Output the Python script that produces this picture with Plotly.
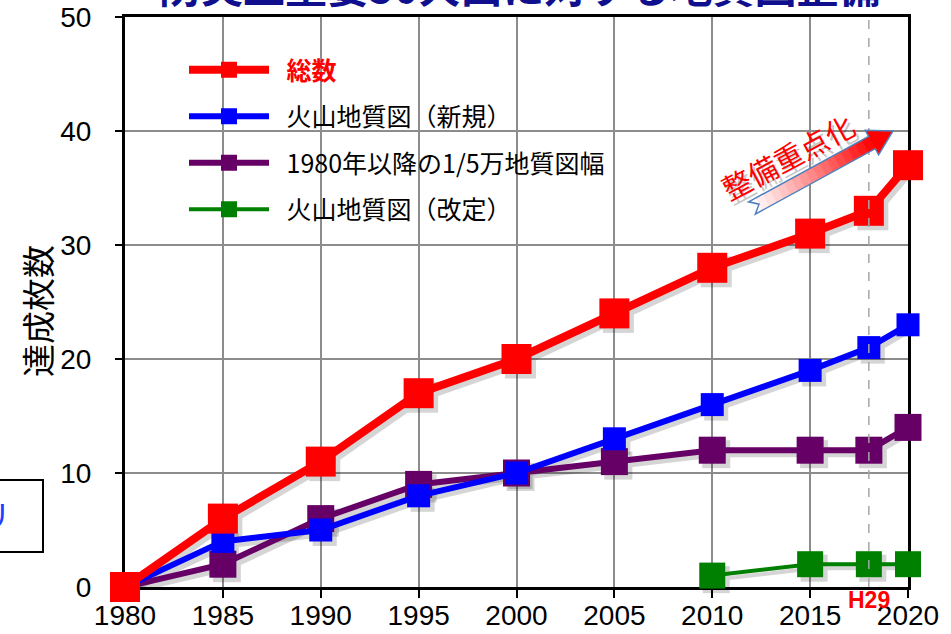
import math
import plotly.graph_objects as go

# ---- data -------------------------------------------------------------
years = [1980, 1985, 1990, 1995, 2000, 2005, 2010, 2015, 2018, 2020]
total = [0, 6, 11, 17, 20, 24, 28, 31, 33, 37]
volcano_new = [0, 4, 5, 8, 10, 13, 16, 19, 21, 23]
quad_50k = [0, 2, 6, 9, 10, 11, 12, 12, 12, 14]
revised_years = [2010, 2015, 2018, 2020]
volcano_revised = [1, 2, 2, 2]

x_ticks = [1980, 1985, 1990, 1995, 2000, 2005, 2010, 2015, 2020]
y_ticks = [0, 10, 20, 30, 40, 50]

PAD = "\u2002"  # small gap between legend symbol and label
series = [
    # name, x, y, colour, marker size, line width, legend rank
    (PAD + "火山地質図（改定）", revised_years, volcano_revised, "#008000", 26, 4, 4),
    (PAD + "1980年以降の1/5万地質図幅", years, quad_50k, "#660066", 27, 6, 3),
    (PAD + "火山地質図（新規）", years, volcano_new, "#0000ff", 23, 6, 2),
    (PAD + "<b><span style='color:#ff0000'>総数</span></b>", years, total,
     "#ff0000", 30, 8, 1),
]

# ---- geometry ---------------------------------------------------------
W, H = 951, 634
ML, MR, MT, MB = 125, 43, 17, 47
PW, PH = W - ML - MR, H - MT - MB
X_RANGE = [1980, 2020]
Y_RANGE = [0, 50]
SHADOW_DX, SHADOW_DY = 4, 4  # drop-shadow offset in pixels


def paper(px, py):
    return (px - ML) / PW, (H - MB - py) / PH


fig = go.Figure()

# drop shadows drawn on a base axis pair shifted by a few pixels
sx = SHADOW_DX * (X_RANGE[1] - X_RANGE[0]) / PW
sy = SHADOW_DY * (Y_RANGE[1] - Y_RANGE[0]) / PH
for name, xs, ys, col, msize, lw, rank in series:
    fig.add_trace(go.Scatter(
        x=xs, y=ys, mode="lines+markers", xaxis="x", yaxis="y",
        line=dict(color="#000000", width=lw),
        marker=dict(symbol="square", size=msize + 1, color="#000000"),
        opacity=0.16, showlegend=False, hoverinfo="skip", cliponaxis=False,
    ))

for i, (name, xs, ys, col, msize, lw, rank) in enumerate(series):
    fig.add_trace(go.Scatter(
        x=xs, y=ys, name=name, mode="lines+markers", xaxis="x2", yaxis="y2",
        line=dict(color=col, width=lw),
        marker=dict(symbol="square", size=msize, color=col,
                    line=dict(width=0)),
        legendgroup=f"g{i}", legendrank=rank, cliponaxis=False,
    ))

tick_font = dict(family="Liberation Sans, Arial", size=28, color="#000000")

fig.update_layout(
    width=W, height=H,
    margin=dict(l=ML, r=MR, t=MT, b=MB, autoexpand=False),
    paper_bgcolor="#ffffff", plot_bgcolor="#ffffff",
    xaxis=dict(range=[X_RANGE[0] - sx, X_RANGE[1] - sx], visible=False,
               fixedrange=True, automargin=False),
    yaxis=dict(range=[Y_RANGE[0] + sy, Y_RANGE[1] + sy], visible=False,
               fixedrange=True, automargin=False),
    xaxis2=dict(
        overlaying="x", anchor="y2", range=X_RANGE, tickvals=x_ticks,
        showgrid=True, gridcolor="#8c8c8c", gridwidth=1.5,
        showline=True, linecolor="#000000", linewidth=3, mirror=True,
        ticks="outside", ticklen=8, tickwidth=2, tickcolor="#000000",
        tickfont=tick_font, ticklabelstandoff=-7, zeroline=False,
        layer="below traces", automargin=False,
    ),
    yaxis2=dict(
        overlaying="y", anchor="x2", range=Y_RANGE, tickvals=y_ticks,
        showgrid=True, gridcolor="#8c8c8c", gridwidth=1.5,
        showline=True, linecolor="#000000", linewidth=3, mirror=True,
        ticks="outside", ticklen=7, tickwidth=2, tickcolor="#000000",
        tickfont=tick_font, ticklabelstandoff=18, zeroline=False,
        layer="below traces", automargin=False,
    ),
    legend=dict(
        x=paper(184, 0)[0], y=paper(0, 47)[1], xanchor="left", yanchor="top",
        bgcolor="rgba(255,255,255,0)", borderwidth=0,
        font=dict(family="Noto Sans CJK JP", size=25, color="#000000"),
        traceorder="grouped", tracegroupgap=11, itemwidth=80,
    ),
    showlegend=True,
)

# y-axis title
tx, ty = paper(37, 311)
fig.add_annotation(xref="paper", yref="paper", x=tx, y=ty, text="達成枚数",
                   textangle=-90, showarrow=False, xanchor="center",
                   yanchor="middle",
                   font=dict(family="Noto Sans CJK JP", size=33,
                             color="#000000"))

# dashed marker for H29
fig.add_shape(type="line", xref="x2", yref="paper", x0=2018, x1=2018,
              y0=0, y1=1, layer="above",
              line=dict(color="#a6a6a6", width=1.5, dash="dash"))
fig.add_annotation(xref="x2", yref="paper", x=2018, y=0, yshift=-13,
                   xanchor="center", yanchor="middle",
                   text="<b>H29</b>", showarrow=False,
                   font=dict(family="Liberation Sans, Arial", size=23,
                             color="#ff0000"))

# heading across the top edge
fig.add_annotation(xref="paper", yref="paper", x=paper(520, 0)[0], y=1,
                   xanchor="center", yanchor="middle", yshift=33,
                   text="<b>防災上重要50火山に対する地質図整備</b>",
                   showarrow=False,
                   font=dict(family="Noto Sans CJK JP", size=42,
                             color="#10108f"))

# side box on the left edge
bx0, by0 = paper(-6, 552)
bx1, by1 = paper(43, 480)
fig.add_shape(type="rect", xref="paper", yref="paper", x0=bx0, x1=bx1,
              y0=by0, y1=by1, line=dict(color="#000000", width=2),
              fillcolor="#ffffff", layer="above")
rx, ry = paper(-5, 514)
fig.add_annotation(xref="paper", yref="paper", x=rx, y=ry, text="リ",
                   showarrow=False, xanchor="center", yanchor="middle",
                   font=dict(family="Noto Sans CJK JP", size=32,
                             color="#1f3fff"))

# gradient arrow with "整備重点化"
tail = (752, 208)
tip = (893, 131)
L = math.hypot(tip[0] - tail[0], tip[1] - tail[1])
ux, uy = (tip[0] - tail[0]) / L, (tip[1] - tail[1]) / L
nx, ny = -uy, ux
BODY, HEAD, HEAD_LEN, NOTCH = 7, 14, 24, 8
neck = L - HEAD_LEN


def pt(s, t):
    return paper(tail[0] + ux * s + nx * t, tail[1] + uy * s + ny * t)


def path_of(points):
    return "M " + " L ".join(f"{x:.5f},{y:.5f}" for x, y in points) + " Z"


n_seg = 17
for k in range(n_seg):
    s0 = neck * k / n_seg
    s1 = neck * (k + 1) / n_seg
    frac = (k + 0.5) / n_seg
    g = int(round(255 * (1 - frac ** 1.1)))
    col = f"rgb(255,{g},{g})"
    if k == 0:
        pts = [pt(0, -BODY), pt(s1 + 0.6, -BODY), pt(s1 + 0.6, BODY),
               pt(0, BODY), pt(NOTCH, 0)]
    else:
        pts = [pt(s0, -BODY), pt(s1 + 0.6, -BODY), pt(s1 + 0.6, BODY),
               pt(s0, BODY)]
    fig.add_shape(type="path", xref="paper", yref="paper", path=path_of(pts),
                  fillcolor=col, line=dict(width=0), layer="above")
fig.add_shape(type="path", xref="paper", yref="paper",
              path=path_of([pt(neck, -HEAD), pt(L, 0), pt(neck, HEAD)]),
              fillcolor="#ff0000", line=dict(width=0), layer="above")
outline = [pt(0, -BODY), pt(neck, -BODY), pt(neck, -HEAD), pt(L, 0),
           pt(neck, HEAD), pt(neck, BODY), pt(0, BODY), pt(NOTCH, 0)]
fig.add_shape(type="path", xref="paper", yref="paper", path=path_of(outline),
              fillcolor="rgba(0,0,0,0)", line=dict(color="#4f81bd", width=1.5),
              layer="above")

lx, ly = paper(787, 156)
lsx, lsy = paper(790, 160)
for (ax, ay, col) in [(lsx, lsy, "rgba(0,0,0,0.22)"), (lx, ly, "#ff0000")]:
    fig.add_annotation(xref="paper", yref="paper", x=ax, y=ay,
                       xanchor="center", yanchor="middle",
                       text="整備重点化", textangle=-28, showarrow=False,
                       font=dict(family="Noto Sans CJK JP", size=29,
                                 color=col))

fig.write_html("out.html")
